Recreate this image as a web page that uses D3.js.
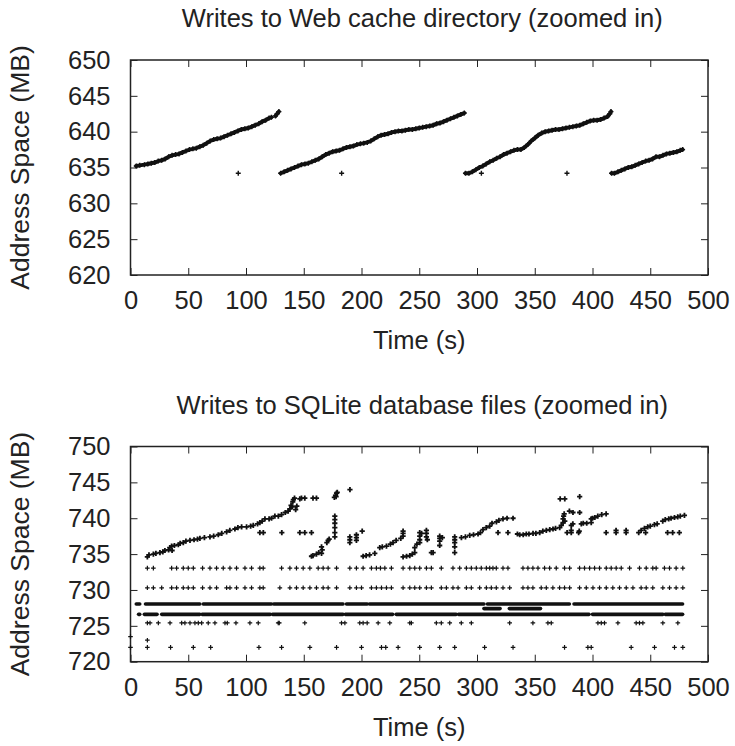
<!DOCTYPE html>
<html>
<head>
<meta charset="utf-8">
<script src="https://cdn.jsdelivr.net/npm/d3@7/dist/d3.min.js"></script>
<style>
  body { margin: 0; background: #fff; }
  text { font-family: "Liberation Sans", Arial, Helvetica, sans-serif; fill: #222; }
</style>
</head>
<body>
<div id="chart"></div>
<script>
// tick labels
const xTicks = [0, 50, 100, 150, 200, 250, 300, 350, 400, 450, 500];
const cacheYTicks = [620, 625, 630, 635, 640, 645, 650];
const sqliteYTicks = [720, 725, 730, 735, 740, 745, 750];

// ---- Web cache directory writes: [time s, address MB] ----
const cacheRun1 = [[5,635.2],[8,635.3],[12,635.4],[15,635.5],[18,635.6],[21,635.7],[24,635.9],[27,636.0],[30,636.2],[33,636.5],[36,636.7],[39,636.8],[42,636.9],[45,637.1],[48,637.3],[51,637.5],[54,637.6],[57,637.7],[60,637.9],[63,638.1],[66,638.4],[69,638.7],[72,638.9],[75,639.0],[78,639.1],[81,639.3],[84,639.5],[87,639.7],[90,639.9],[93,640.1],[96,640.3],[99,640.4],[102,640.5],[105,640.7],[108,640.9],[111,641.1],[114,641.4],[117,641.6],[120,641.9],[122,642.0]];
const cacheRun1b = [[125.5,642.2],[127,642.5],[128.5,642.8]];
const cacheRun2 = [[130,634.2],[133,634.4],[136,634.6],[139,634.8],[142,635.0],[145,635.2],[148,635.4],[151,635.5],[154,635.6],[157,635.8],[160,636.0],[163,636.2],[166,636.5],[169,636.8],[172,637.0],[175,637.2],[178,637.3],[181,637.4],[184,637.6],[187,637.8],[190,637.9],[193,638.0],[196,638.2],[199,638.3],[202,638.4],[205,638.5],[208,638.7],[211,639.0],[214,639.3],[217,639.5],[220,639.6],[223,639.7],[226,639.9],[229,640.0],[232,640.1],[235,640.1],[238,640.2],[241,640.3],[244,640.3],[247,640.4],[250,640.5],[253,640.6],[256,640.7],[259,640.8],[262,640.9],[265,641.1],[268,641.2],[271,641.4],[274,641.6],[277,641.8],[280,642.0],[283,642.2],[286,642.4],[289,642.6]];
const cacheRun3 = [[290,634.2],[293,634.2],[296,634.4],[299,634.7],[302,635.0],[305,635.2],[308,635.5],[311,635.8],[314,636.0],[317,636.3],[320,636.5],[323,636.8],[326,637.0],[329,637.2],[332,637.4],[335,637.5],[338,637.5],[341,637.8],[344,638.2],[347,638.7],[350,639.1],[353,639.5],[356,639.8],[359,640.0],[362,640.1],[365,640.2],[368,640.3],[371,640.3],[374,640.4],[377,640.5],[380,640.6],[383,640.7],[386,640.8],[389,640.9],[392,641.1],[395,641.3],[398,641.5],[401,641.6],[404,641.6],[407,641.7],[410,641.9],[413,642.1],[415,642.5],[416,642.8]];
const cacheRun4 = [[416.5,634.2],[419,634.2],[422,634.4],[425,634.6],[428,634.8],[431,635.0],[434,635.1],[437,635.3],[440,635.5],[443,635.7],[446,635.9],[449,636.0],[452,636.2],[455,636.5],[458,636.5],[461,636.7],[464,636.9],[467,637.0],[470,637.1],[473,637.2],[476,637.4],[478,637.5]];
const cacheStray = [[93.3,634.2],[182.8,634.2],[303.8,634.2],[377.9,634.2]];

// ---- SQLite database writes ----
const sqliteUpper = [[14.6,734.6],[16,734.9],[19.8,735.0],[22,735.1],[25.5,735.2],[28,735.3],[29.8,735.5],[33,735.6],[34,735.9],[35.6,736.1],[36,735.5],[38,736.2],[41.4,736.3],[43,736.5],[45.7,736.6],[48,736.8],[51.5,736.9],[55,737.0],[58,737.1],[60.1,737.2],[64,737.3],[68.8,737.4],[72,737.5],[76,737.7],[79,737.9],[83.2,738.1],[86,738.3],[90.4,738.5],[93,738.7],[96.2,738.8],[100.5,738.8],[104,738.9],[106.3,739.0],[110,739.2],[112,739.4],[114,739.6],[116.4,739.9],[120,739.9],[122.1,740.0],[125,740.3],[128,740.3],[130.8,740.5],[134,740.8],[136.5,741.0],[138,741.3],[139,741.8],[140.5,742.3],[141,742.6],[142,742.8],[140,741.6],[143,741.2],[144,741.7],[146.6,742.7],[148,742.8],[150.9,742.8],[158,742.8],[161,742.8],
  [176.5,742.9],[177.5,743.2],[178.4,743.5],[179,743.6],[178,743.0],[190,744.0],
  [156.7,734.7],[158,734.8],[161,735.0],[163,735.2],[165.4,735.1],[165.4,736.0],[166,735.6],[170,736.6],[171.1,736.9],[172,737.1],[176.9,737.4],[176.9,738.0],[176.9,738.7],[176.9,739.3],[176.9,739.8],[176.9,740.3],[189.9,736.6],[189.9,737.0],[189.9,737.4],[195.6,736.9],[195.6,737.3],[195.6,737.7],[200.6,738.2],
  [201.4,734.7],[204,734.8],[207,734.9],[211.5,735.1],[215.8,735.9],[218,736.0],[221.6,736.1],[225,736.4],[227.3,736.6],[230,736.9],[234,737.2],[236,737.5],[236,737.9],[236,738.2],
  [236,734.6],[239,734.7],[241.8,734.8],[244,735.0],[246.1,735.2],[246.1,735.9],[248,736.4],[250.4,736.6],[250.4,737.0],[250.4,737.5],[250.4,738.0],[252,737.9],[256.2,737.4],[256.2,737.9],[256.2,738.3],[257,737.0],[260.5,735.2],[262,735.2],[267.7,736.2],[267.7,736.8],[267.7,737.2],[267.7,737.5],[270,737.3],[280.7,735.2],[280.7,736.0],[280.7,736.6],[280.7,737.0],[280.7,737.4],[286.5,737.3],[290,737.4],[293.7,737.6],[297,737.7],[300.9,737.8],[303,738.0],[305.2,738.4],[308,738.7],[311,738.9],[313,739.3],[316.8,739.5],[319,739.7],[322.5,739.9],[326,740.0],[331.2,740.0],[318.2,738.0],[326.8,738.0],
  [335,737.8],[337,737.7],[340,737.7],[342.7,737.8],[345,737.8],[348.5,737.9],[351,737.9],[354.3,738.0],[357,738.2],[360,738.3],[363,738.4],[365.8,738.5],[368,738.6],[371.6,738.7],[373,739.0],[374.5,739.4],[374.5,739.9],[375,740.3],[375.5,740.6],[376,739.6],[372,742.7],[376,742.7],[388.9,743.0],[380,741.0],[383.1,740.8],[378,738.0],[381.6,738.0],[381.6,738.3],[381.6,739.0],[383,739.2],[388,738.0],[388.5,738.2],[388.9,740.8],[390.3,739.2],[392,739.3],[395,739.3],[398.9,739.4],[398.9,739.9],[400,740.0],[402,740.1],[404.6,740.3],[408,740.5],[411.8,740.6],[411.8,738.0],[420.4,738.0],[420.4,738.3],[429.1,738.0],[429.1,738.3],[440,738.0],[442.1,738.3],[445,738.6],[447.8,738.8],[450,738.9],[453.6,739.1],[456,739.2],[460.8,739.6],[463,739.8],[466,739.9],[468,740.0],[471,740.1],[473.8,740.2],[476,740.3],[479.6,740.4],[465,738.0],[469.4,738.0],[475.2,738.0],[446,738.0],
  [112,738.0],[115,738.0],[131,738.0],[146.6,738.0],[150.9,738.0],[156.7,738.0]];
const row733Times = [14.6,19.8,35.6,39.9,45.7,50,54.4,62.4,68.8,74.5,80.3,86.1,91.8,99.1,104.8,112,114.9,130.8,138,143.7,149.5,155.3,162.5,166.8,171.1,178.4,189.9,195.6,201.4,208.6,212.9,216.4,220.2,225.9,236,241.8,246.1,250.4,256.2,260.5,269.1,279.2,285,290.8,295.1,299.4,303.7,308.1,311,313.8,316.7,322.5,326.8,339.8,344.1,348.4,352.8,358.5,362.9,368.6,375.8,380.2,388.8,393.1,397.5,401.8,406.1,411.9,416.2,420.5,424.9,432.1,440.7,446.5,452.2,455.1,462.3,466.7,472.4,478.2];
const row730Times = [14.6,19.8,27,35.6,39.9,45.7,50,54.4,62.4,68.8,74.5,83.2,86.1,91.8,99.1,104.8,112,114.9,129.3,138,143.7,149.5,155.3,161,166.8,171.1,178.4,189.9,195.6,200,208.6,212.9,217.3,221.6,225.9,236,241.8,246.1,250.4,256.2,260.5,269.1,273.5,279.2,283.6,290.8,295.1,302.3,308.1,312.4,316.7,322.5,328.3,339.8,344.1,348.4,355.6,360,365.7,371.5,375.8,380.2,388.8,394.6,400.4,406.1,411.9,417.6,423.4,429.2,435,442.1,446.5,452.2,460.9,466.7,472.4,478.2];
const band728 = [[5,8],[13,60],[63,122],[124,184],[187,205],[207,306],[309,380],[384,478]];
const band727 = [[306,320],[328,355]];
const band726 = [[7,8],[12,23],[27,60],[62,121],[123,184],[186,227],[230,282],[284,397],[400,461],[463,478]];
const row725Times = [14.6,16.9,24.1,34.2,44.3,47.1,51.5,55.8,58.7,61.6,67.3,73.1,81.8,83.8,91.3,103.4,110.6,127.9,128.8,150.9,182.7,185.6,198.5,201.4,204.9,214.4,224.5,241.8,243.2,264.8,269.1,276.4,286.4,295.1,328.3,348.4,361.4,364.3,404.7,407.6,410.4,422,437.8,440.7,443.6,460.9,473.9];
const row723Points = [[0,723.5],[14.6,723.0]];
const row722Times = [0,14.6,34.7,54.4,69.4,111.2,130.8,155.3,178.4,200,217.3,221,231.7,250.4,267.7,280.7,306.6,331.2,375.8,396,398.9,433.5,453.7,471,478.2];

const width = 735, height = 746;
const margin = {left: 130.5, right: 27};
const fontSize = 25.5;
const panels = [
  {title: 'Writes to Web cache directory (zoomed in)', yTicks: cacheYTicks, top: 60, bottom: 275},
  {title: 'Writes to SQLite database files (zoomed in)', yTicks: sqliteYTicks, top: 446.5, bottom: 661.7}
];

const svg = d3.select('#chart').append('svg').attr('width', width).attr('height', height);

const x = d3.scaleLinear().domain([0, 500]).range([margin.left, width - margin.right]);
const plus = (a) => `M${-a},0H${a}M0,${-a}V${a}`;

panels.forEach((p) => {
  const y = d3.scaleLinear().domain(d3.extent(p.yTicks)).range([p.bottom, p.top]);
  p.y = y;
  const g = svg.append('g');

  // ticks on all four sides, pointing inward
  g.append('g').attr('transform', 'translate(0,' + p.bottom + ')')
    .call(d3.axisBottom(x).tickValues(xTicks).tickSize(-7).tickPadding(16).tickFormat(d3.format('d')));
  g.append('g').attr('transform', 'translate(0,' + p.top + ')')
    .call(d3.axisTop(x).tickValues(xTicks).tickSize(-7).tickFormat(''));
  g.append('g').attr('transform', 'translate(' + margin.left + ',0)')
    .call(d3.axisLeft(y).tickValues(p.yTicks).tickSize(-7).tickPadding(20).tickFormat(d3.format('d')));
  g.append('g').attr('transform', 'translate(' + (width - margin.right) + ',0)')
    .call(d3.axisRight(y).tickValues(p.yTicks).tickSize(-7).tickFormat(''));
  g.selectAll('.domain').remove();
  g.selectAll('.tick line').attr('stroke', '#222').attr('stroke-width', 1);
  g.selectAll('.tick text').attr('font-size', fontSize).attr('fill', '#222')
    .style('font-family', '"Liberation Sans", Arial, sans-serif');

  g.append('rect')
    .attr('x', margin.left).attr('y', p.top)
    .attr('width', x(500) - margin.left).attr('height', p.bottom - p.top)
    .attr('fill', 'none').attr('stroke', '#222').attr('stroke-width', 1.5);

  g.append('text').attr('x', (margin.left + x(500)) / 2 + 3).attr('y', p.top - 33)
    .attr('text-anchor', 'middle').attr('font-size', fontSize).text(p.title);
  g.append('text').attr('x', (margin.left + x(500)) / 2).attr('y', p.bottom + 74)
    .attr('text-anchor', 'middle').attr('font-size', fontSize).text('Time (s)');
  g.append('text')
    .attr('transform', 'translate(29,' + (p.top + p.bottom) / 2 + ') rotate(-90)')
    .attr('text-anchor', 'middle').attr('font-size', 26.5).text('Address Space (MB)');
});

// ---- top panel marks ----
const yc = panels[0].y;
const line = d3.line().x((d) => x(d[0])).y((d) => yc(d[1]));
const cacheG = svg.append('g').attr('class', 'cache');
[cacheRun1, cacheRun1b, cacheRun2, cacheRun3, cacheRun4].forEach((run) => {
  cacheG.append('path').attr('d', line(run))
    .attr('fill', 'none').attr('stroke', '#111').attr('stroke-width', 4).attr('stroke-linecap', 'round');
});
cacheG.selectAll('path.pt')
  .data([].concat(cacheRun1, cacheRun1b, cacheRun2, cacheRun3, cacheRun4, cacheStray))
  .enter().append('path').attr('class', 'pt')
  .attr('transform', (d) => 'translate(' + x(d[0]) + ',' + yc(d[1]) + ')')
  .attr('d', plus(2.5)).attr('stroke', '#111').attr('stroke-width', 1.4);

// ---- bottom panel marks ----
const ys = panels[1].y;
const sqlG = svg.append('g').attr('class', 'sqlite');
[[band728, 728.05], [band727, 727.4], [band726, 726.6]].forEach(([ivs, v]) => {
  sqlG.selectAll(null).data(ivs).enter().append('line')
    .attr('x1', (d) => x(d[0])).attr('x2', (d) => x(d[1]))
    .attr('y1', ys(v)).attr('y2', ys(v))
    .attr('stroke', '#111').attr('stroke-width', 3.6).attr('stroke-linecap', 'round');
});
const rowPts = [].concat(
  row733Times.map((t) => [t, 733.05]),
  row730Times.map((t) => [t, 730.3]),
  row725Times.map((t) => [t, 725.4]),
  row722Times.map((t) => [t, 722.0]),
  row723Points
);
sqlG.selectAll('path.row').data(rowPts).enter().append('path').attr('class', 'row')
  .attr('transform', (d) => 'translate(' + x(d[0]) + ',' + ys(d[1]) + ')')
  .attr('d', plus(2.3)).attr('stroke', '#111').attr('stroke-width', 1.2);
sqlG.selectAll('path.up').data(sqliteUpper).enter().append('path').attr('class', 'up')
  .attr('transform', (d) => 'translate(' + x(d[0]) + ',' + ys(d[1]) + ')')
  .attr('d', plus(2.6)).attr('stroke', '#111').attr('stroke-width', 1.8);
</script>
</body>
</html>
